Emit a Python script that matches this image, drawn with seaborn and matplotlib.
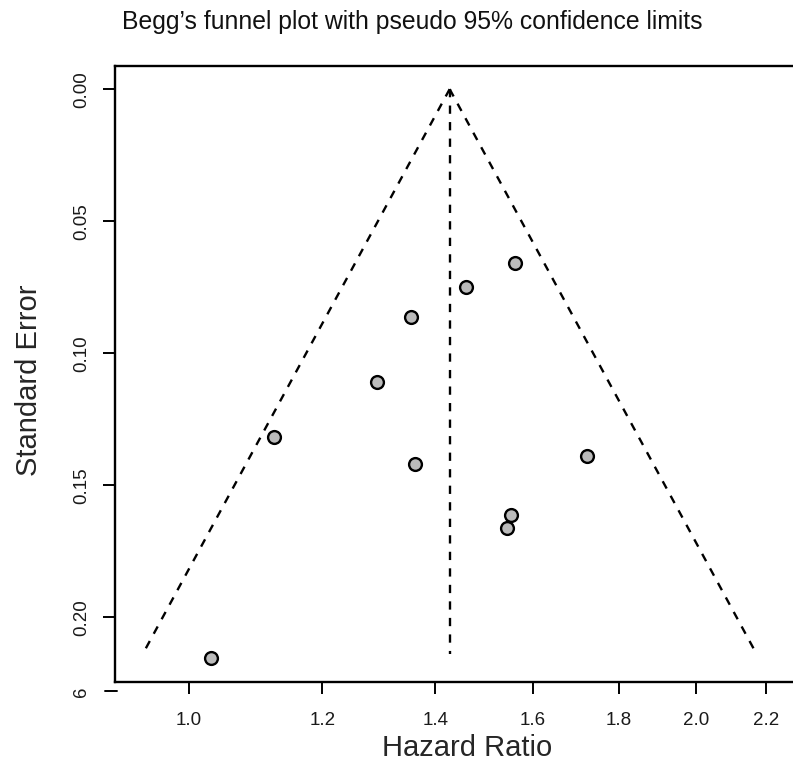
import numpy as np
import pandas as pd
import matplotlib
matplotlib.use('Agg')
import matplotlib.pyplot as plt
import seaborn as sns

# study estimates
hazard_ratio = [1.561, 1.460, 1.354, 1.293, 1.124, 1.362, 1.722, 1.552, 1.545, 1.031]
std_error = [0.0657, 0.0750, 0.0861, 0.1108, 0.1316, 0.1418, 0.1389, 0.1613, 0.1663, 0.2155]

# pooled estimate and extent of the pseudo 95% limits
pooled_hr = 1.428
max_se = 0.214

x_ticks = [1.0, 1.2, 1.4, 1.6, 1.8, 2.0, 2.2]
y_ticks = [0.00, 0.05, 0.10, 0.15, 0.20]

df = pd.DataFrame({'hr': hazard_ratio, 'se': std_error})

sns.set_theme(style='ticks')
plt.rcParams['font.family'] = ['Liberation Sans', 'DejaVu Sans']

fig = plt.figure(figsize=(7.93, 7.71), dpi=100)
ax = fig.add_axes([0.145, 0.1155, 0.87, 0.799])

# funnel limits
se_line = np.array([0.0, max_se])
lo = np.exp(np.log(pooled_hr) - 1.96 * se_line)
hi = np.exp(np.log(pooled_hr) + 1.96 * se_line)
dash = dict(color='black', lw=1.7, ls=(0, (3.5, 3.5)))
ax.plot(lo, se_line, **dash)
ax.plot(hi, se_line, **dash)
ax.plot([pooled_hr, pooled_hr], se_line, **dash)

sns.scatterplot(data=df, x='hr', y='se', ax=ax, s=85, color='#bbbbbb',
                edgecolor='black', linewidth=1.7, zorder=3)

ax.set_xscale('log')
ax.set_xlim(0.904, 2.32)
ax.set_ylim(0.2245, -0.0088)
ax.set_xticks(x_ticks)
ax.set_xticklabels([f'{t:.1f}' for t in x_ticks])
ax.minorticks_off()
ax.set_yticks(y_ticks)
ax.set_yticklabels([f'{t:.2f}' for t in y_ticks], rotation=90, va='center')

ax.tick_params(axis='both', length=8.6, width=1.4, color='black',
               labelsize=13.5, labelcolor='#1a1a1a')
ax.tick_params(axis='x', pad=13)
ax.tick_params(axis='y', pad=9)

for side in ['left', 'top', 'bottom']:
    ax.spines[side].set_linewidth(1.7)
    ax.spines[side].set_color('black')
ax.spines['right'].set_visible(False)

ax.set_xlabel('Hazard Ratio', fontsize=21)
ax.xaxis.set_label_coords(0.51, -0.085)
ax.set_ylabel('Standard Error', fontsize=21)
ax.yaxis.set_label_coords(-0.104, 0.49)

# stray clipped tick label at the bottom of the y axis
ax.plot([-0.0145, 0.003], [-0.014, -0.014], transform=ax.transAxes,
        color='black', lw=1.4, clip_on=False)
ax.text(-0.048, -0.016, '6', transform=ax.transAxes, rotation=90,
        ha='center', va='center', fontsize=13.5, color='#1a1a1a')

fig.text(0.52, 0.971, 'Begg\u2019s funnel plot with pseudo 95% confidence limits',
         ha='center', va='center', fontsize=17.8, color='#111111')

fig.savefig('out.png', dpi=100)
